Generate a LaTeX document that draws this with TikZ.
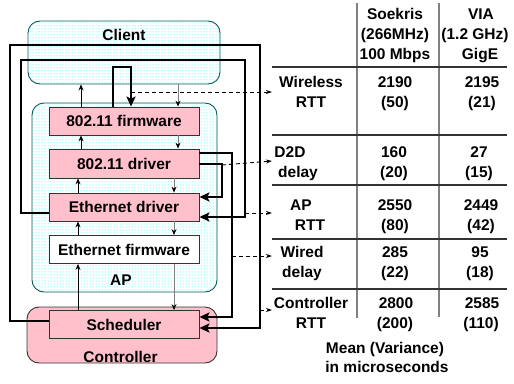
\documentclass[tikz,border=0pt]{standalone}
\usepackage{fontspec}
\setmainfont{Liberation Sans}
\usetikzlibrary{arrows.meta,patterns}
\definecolor{mypink}{HTML}{FFC0CB}
\definecolor{myteal}{HTML}{0A5A5A}
\begin{document}
\begin{tikzpicture}[x=1pt,y=-1pt,
  txt/.style={font=\fontsize{15.5}{19}\selectfont\bfseries, inner sep=0pt, anchor=base},
  grp/.style={draw=myteal, line width=0.9pt, rounded corners=12pt, preaction={fill=white}, pattern=dots, pattern color=cyan, inner sep=0pt},
  pbox/.style={draw=black!80, line width=0.8pt, fill=mypink, minimum width=150pt, minimum height=28pt, inner sep=0pt, font=\fontsize{15.5}{19}\selectfont\bfseries},
  big/.style={line width=2.4pt, -{Stealth[length=10pt,width=9pt,inset=2pt]}},
  up/.style={line width=0.8pt, black, -{Stealth[length=6pt,width=5pt]}},
  down/.style={line width=0.9pt, gray, -{Stealth[length=6pt,width=5pt,black]}},
  dsh/.style={line width=0.9pt, dash pattern=on 4pt off 3pt, -{Stealth[length=6pt,width=4pt]}},
  hl/.style={line width=1.1pt, black!80},
  vl/.style={line width=1.3pt, gray},
]
\useasboundingbox (0,0) rectangle (514,383);

% group boxes
\node[grp, minimum width=192pt, minimum height=63pt] (client) at (124,52.5) {};
\node[grp, minimum width=185pt, minimum height=189pt] (ap) at (124.5,197.5) {};
\node[draw=black!80, line width=0.9pt, rounded corners=12pt, fill=mypink, minimum width=190pt, minimum height=56pt, inner sep=0pt] (ctrl) at (122,335) {};
\node[txt] (clientl) at (124,40) {Client};
\node[txt] (apl) at (121,285) {AP};
\node[txt] (ctrll) at (120.5,362) {Controller};

% inner boxes
\node[pbox] (fw) at (124,121) {802.11 firmware};
\node[pbox, minimum height=29pt] (drv) at (124,163.5) {802.11 driver};
\node[pbox] (ed) at (124,207) {Ethernet driver};
\node[pbox, fill=white] (ef) at (124,249.5) {Ethernet firmware};
\node[pbox] (sch) at (124,324.5) {Scheduler};

% thin arrows
\draw[up] (fw.north -| 81,0) -- (client.south -| 81,0);
\draw[down] (client.south -| 178,0) -- (fw.north -| 178,0);
\draw[up] (drv.north -| 81,0) -- (fw.south -| 81,0);
\draw[down] (fw.south -| 178,0) -- (drv.north -| 178,0);
\draw[up] (ed.north -| 78,0) -- (drv.south -| 78,0);
\draw[down] (drv.south -| 174,0) -- (ed.north -| 174,0);
\draw[up] (ef.north -| 78,0) -- (ed.south -| 78,0);
\draw[down] (ed.south -| 174,0) -- (ef.north -| 174,0);
\draw[up] (sch.north -| 78,0) -- (ef.south -| 78,0);
\draw[down] (ef.south -| 174,0) -- (sch.north -| 174,0);

% thick loops
\draw[big] (fw.north -| 113,0) |- (131,67) -- (fw.north -| 131,0);
\draw[big] (drv.east |- 0,164) -| (222,197) -- (ed.east |- 0,197);
\draw[big] (drv.east |- 0,153) -| (232,317) -- (sch.east |- 0,317);
\draw[big] (ed.west |- 0,213) -| (21,60) -| (245,217) -- (ed.east |- 0,217);
\draw[big] (sch.west |- 0,321) -| (10,45) -| (260,328) -- (sch.east |- 0,328);

% dashed pointers
\coordinate (d1a) at (131,92);  \coordinate (d1b) at (272,92);
\coordinate (d2a) at (222,165); \coordinate (d2b) at (272,161);
\coordinate (d3a) at (245,213); \coordinate (d3b) at (272,213);
\coordinate (d4a) at (232,256); \coordinate (d4b) at (272,256);
\coordinate (d5a) at (260,310); \coordinate (d5b) at (272,310);
\draw[dsh] (d1a) -- (d1b);
\draw[dsh] (d2a) -- (d2b);
\draw[dsh] (d3a) -- (d3b);
\draw[dsh] (d4a) -- (d4b);
\draw[dsh] (d5a) -- (d5b);

% table grid
\draw[vl] (357,3) -- (357,318);
\draw[vl] (439,3) -- (439,317);
\foreach \yy in {67,135,185,239,289} \draw[hl] (272,\yy) -- (507,\yy);

% header
\node[txt] (h1a) at (395,19.5) {Soekris};
\node[txt] (h1b) at (395,39) {(266MHz)};
\node[txt] (h1c) at (395,59) {100 Mbps};
\node[txt] (h2a) at (481,19.5) {VIA};
\node[txt] (h2b) at (475,39) {(1.2 GHz)};
\node[txt] (h2c) at (480,59) {GigE};

% row labels
\node[txt] (r1a) at (311,87.5) {Wireless};
\node[txt] (r1b) at (311,107.5) {RTT};
\node[txt] (r2a) at (290,157) {D2D};
\node[txt] (r2b) at (298,177) {delay};
\node[txt] (r3a) at (301,210.5) {AP};
\node[txt] (r3b) at (310,230.5) {RTT};
\node[txt] (r4a) at (302,257) {Wired};
\node[txt] (r4b) at (302,277) {delay};
\node[txt] (r5a) at (311,308.5) {Controller};
\node[txt] (r5b) at (311,328.5) {RTT};

% values
\node[txt] (v11) at (395,87.5) {2190};
\node[txt] (v12) at (395,107.5) {(50)};
\node[txt] (v13) at (482,87.5) {2195};
\node[txt] (v14) at (482,107.5) {(21)};
\node[txt] (v21) at (394,157) {160};
\node[txt] (v22) at (394,177) {(20)};
\node[txt] (v23) at (479,157) {27};
\node[txt] (v24) at (479,177) {(15)};
\node[txt] (v31) at (395,210.5) {2550};
\node[txt] (v32) at (395,230.5) {(80)};
\node[txt] (v33) at (481,210.5) {2449};
\node[txt] (v34) at (481,230.5) {(42)};
\node[txt] (v41) at (395,257) {285};
\node[txt] (v42) at (395,277) {(22)};
\node[txt] (v43) at (480,257) {95};
\node[txt] (v44) at (480,277) {(18)};
\node[txt] (v51) at (396,308.5) {2800};
\node[txt] (v52) at (395,328.5) {(200)};
\node[txt] (v53) at (482,308.5) {2585};
\node[txt] (v54) at (481,328.5) {(110)};

% caption
\node[txt] (cap1) at (385,353) {Mean (Variance)};
\node[txt] (cap2) at (387,372) {in microseconds};
\end{tikzpicture}
\end{document}
